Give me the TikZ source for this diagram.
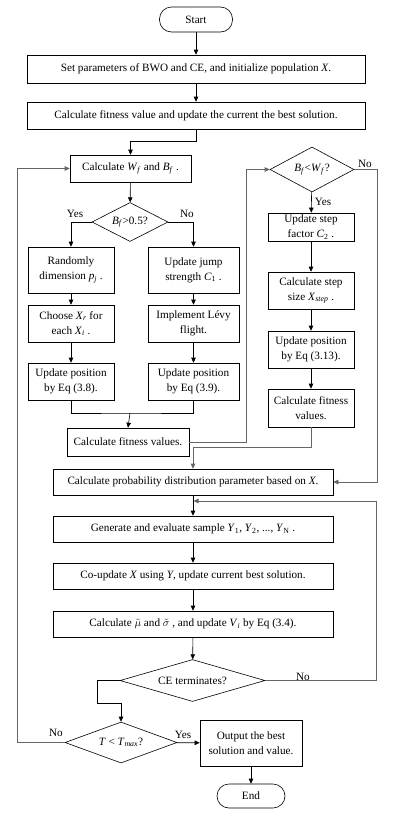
\documentclass[tikz,border=0pt]{standalone}
\usepackage{fontspec}
\setmainfont{Liberation Serif}
\usetikzlibrary{shapes.geometric,arrows.meta}
\newcommand{\isub}[2]{\textit{#1}\textsubscript{\textit{#2}}}
\tikzset{
  box/.style={draw, rectangle, align=center, inner sep=1pt, line width=0.6pt},
  wide/.style={box, minimum width=280pt, minimum height=26pt},
  colL/.style={box, minimum width=86pt},
  colR/.style={box, minimum width=91pt},
  term/.style={draw, rectangle, rounded corners=12pt, line width=0.6pt},
  dec/.style={draw, diamond, aspect=2, inner sep=0pt, align=center, line width=0.6pt},
  lbl/.style={inner sep=1pt},
  flow/.style={-{Triangle[length=5pt,width=4.5pt]}, line width=0.6pt},
  loop/.style={draw=black!60}
}
\begin{document}
\begin{tikzpicture}[x=1pt, y=-1pt, font=\fontsize{11.2}{15}\selectfont]
  \useasboundingbox (0,0) rectangle (413,814);
  % main column
  \node[term, minimum width=73pt, minimum height=25pt] (start) at (196,19.5) {Start};
  \node[box, minimum width=338pt, minimum height=28pt] (setp) at (196,69) {Set parameters of BWO and CE, and initialize population \textit{X}.};
  \node[box, minimum width=338pt, minimum height=27pt] (fit0) at (196,115.5) {Calculate fitness value and update the current the best solution.};
  \node[box, minimum width=121pt, minimum height=27pt] (calcwb) at (130.5,168.5) {Calculate \isub{W}{f} and \isub{B}{f} .};
  \node[dec, minimum width=76pt, minimum height=39pt] (dbf) at (130,222) {\isub{B}{f}>0.5?};
  % BWO branches
  \node[colL, minimum height=46pt] (rnd) at (71,270) {Randomly\\dimension \isub{p}{j} .};
  \node[colL, minimum height=37pt] (chs) at (71,323.5) {Choose \isub{X}{r} for\\each \isub{X}{i} .};
  \node[colL, minimum height=37pt] (up38) at (71,381.5) {Update position\\by Eq (3.8).};
  \node[colR, minimum height=46pt] (jump) at (193.5,270) {Update jump\\strength \textit{C}\textsubscript{1} .};
  \node[colR, minimum height=37pt] (levy) at (193.5,323.5) {Implement Lévy\\flight.};
  \node[colR, minimum height=37pt] (up39) at (193.5,381.5) {Update position\\by Eq (3.9).};
  \node[box, minimum width=122pt, minimum height=28pt] (fitL) at (128,442) {Calculate fitness values.};
  \coordinate (jn) at (130,413);
  % whale fall
  \node[dec, minimum width=84pt, minimum height=45pt] (dbw) at (312,169.5) {\isub{B}{f}<\isub{W}{f}?};
  \node[colL, minimum height=28pt] (stepc) at (311,227) {Update step\\factor \textit{C}\textsubscript{2} .};
  \node[colL, minimum height=37pt] (stepx) at (311,290.5) {Calculate step\\size \isub{X}{step} .};
  \node[colL, minimum height=37pt] (up313) at (311,349.5) {Update position\\by Eq (3.13).};
  \node[colL, minimum height=38pt] (fitR) at (311,408) {Calculate fitness\\values.};
  % CE part
  \node[wide] (prob) at (193,482) {Calculate probability distribution parameter based on \textit{X}.};
  \node[wide] (gen) at (193,529) {Generate and evaluate sample \textit{Y}\textsubscript{1}, \textit{Y}\textsubscript{2}, ..., \textit{Y}\textsubscript{N} .};
  \node[wide] (coup) at (193,576) {Co-update \textit{X} using \textit{Y}, update current best solution.};
  \node[wide] (mu) at (193,624) {Calculate $\tilde{\mu}$ and $\tilde{\sigma}$ , and update \isub{V}{i} by Eq (3.4).};
  \node[dec, minimum width=145pt, minimum height=41pt] (dce) at (192.5,680.5) {CE terminates?};
  \node[dec, minimum width=112pt, minimum height=41pt] (dt) at (121,742.5) {\textit{T} < \isub{T}{max}?};
  \node[box, minimum width=102pt, minimum height=46pt] (outp) at (251,743) {Output the best\\solution and value.};
  \node[term, minimum width=68pt, minimum height=24pt] (fin) at (251,796) {End};
  \coordinate (fb) at (193.5,501);
  % labels
  \node[lbl] (ly1) at (75,214) {Yes};
  \node[lbl] (ln1) at (187,214) {No};
  \node[lbl] (ly2) at (323,202) {Yes};
  \node[lbl] (ln2) at (365,164) {No};
  \node[lbl] (ln3) at (303,677) {No};
  \node[lbl] (ln4) at (56,733) {No};
  \node[lbl] (ly4) at (183,735) {Yes};

  % connectors
  \draw[flow] (start) -- (setp);
  \draw[flow] (setp) -- (fit0);
  \draw[flow] (fit0.south) -- ++(0,12) -| (calcwb.north);
  \draw[flow] (calcwb) -- (dbf);
  \draw[flow] (dbf.west) -| (rnd.north);
  \draw[flow] (dbf.east) -| (jump.north);
  \draw[flow] (rnd) -- (chs);
  \draw[flow] (chs) -- (up38);
  \draw[flow] (jump) -- (levy);
  \draw[flow] (levy) -- (up39);
  \draw[line width=0.6pt] (up38.south) |- (jn) -| (up39.south);
  \draw[flow] (jn) -- (fitL.north);
  \draw[flow, loop] (fitL.east) -- ++(57,0) |- (dbw.west);
  \draw[flow] (dbw) -- (stepc);
  \draw[flow] (stepc) -- (stepx);
  \draw[flow] (stepx) -- (up313);
  \draw[flow] (up313) -- (fitR);
  \draw[flow, loop] (fitR.south) -- ++(0,20) -| (prob.north);
  \draw[flow, loop] (dbw.east) -- ++(23,0) |- (prob.east);
  \draw[flow] (prob) -- (gen);
  \draw[flow] (gen) -- (coup);
  \draw[flow] (coup) -- (mu);
  \draw[flow] (mu) -- (dce);
  \draw[flow, loop] (dce.east) -- ++(111,0) |- (fb);
  \draw[flow] (dce.west) -- ++(-22,0) -- ++(0,23) -| (dt.north);
  \draw[flow, loop] (dt.west) -- ++(-47,0) |- (calcwb.west);
  \draw[flow] (dt) -- (outp);
  \draw[flow] (outp) -- (fin);
\end{tikzpicture}
\end{document}
